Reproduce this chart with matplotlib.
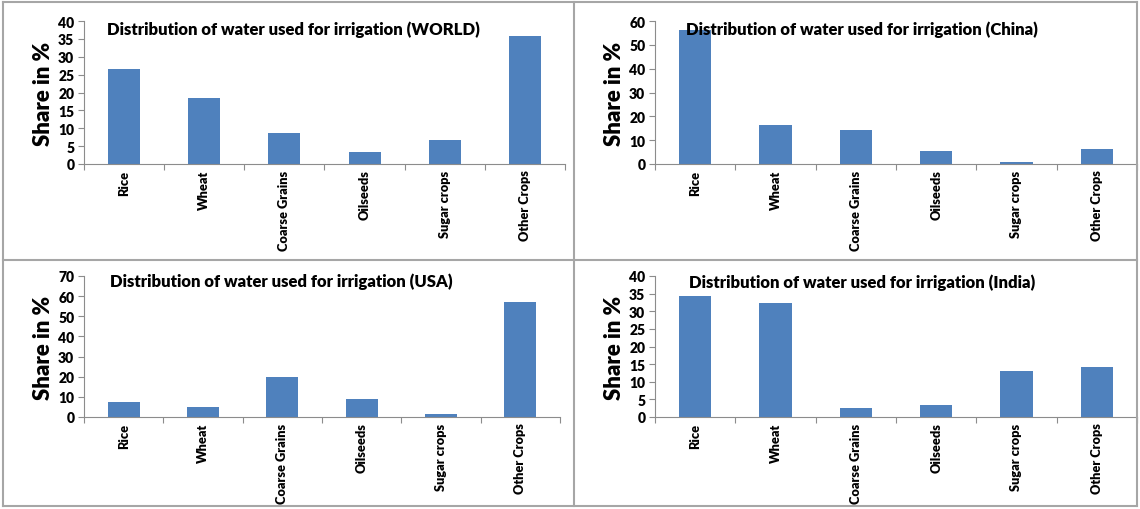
import matplotlib
matplotlib.use("Agg")
import matplotlib.pyplot as plt
from matplotlib.lines import Line2D
import numpy as np

plt.rcParams['font.family'] = ['Lato', 'DejaVu Sans']

categories = ["Rice", "Wheat", "Coarse Grains", "Oilseeds", "Sugar crops", "Other Crops"]
world = [26.7, 18.5, 8.7, 3.3, 6.7, 35.8]
china = [56.2, 16.5, 14.4, 5.4, 0.8, 6.4]
usa = [7.4, 5.0, 19.8, 8.7, 1.6, 57.1]
india = [34.4, 32.2, 2.5, 3.4, 13.1, 14.2]

titles = ["Distribution of water used for irrigation (WORLD)",
          "Distribution of water used for irrigation (China)",
          "Distribution of water used for irrigation (USA)",
          "Distribution of water used for irrigation (India)"]
ymax = [40, 60, 70, 40]
ystep = [5, 10, 10, 5]

W, H = 1140, 510
fig = plt.figure(figsize=(W / 100, H / 100), dpi=100)

# axes rectangles in pixel coords: left, right, top(y of ymax), bottom(y of 0)
rects = [(84, 565, 22, 165), (655, 1137, 22, 165), (84, 560, 277, 418), (655, 1137, 277, 418)]
title_pos = [(0.435, 0.945), (0.43, 0.945), (0.415, 0.965), (0.43, 0.96)]
data = [world, china, usa, india]
bar_color = "#4F81BD"
axis_color = "#8C8C8C"

for i in range(4):
    l, r, t, b = rects[i]
    ax = fig.add_axes([l / W, 1 - b / H, (r - l) / W, (b - t) / H])
    x = np.arange(len(categories))
    ax.bar(x, data[i], width=0.4, color=bar_color, zorder=2)
    ax.set_xlim(-0.5, len(categories) - 0.5)
    ax.set_ylim(0, ymax[i])
    ax.set_yticks(np.arange(0, ymax[i] + 0.1, ystep[i]))
    ax.set_xticks(x)
    ax.set_xticklabels(categories, rotation=90, fontsize=9.2, fontweight='heavy')
    ax.tick_params(axis='x', length=0, pad=4)
    ax.set_xticks(np.arange(-0.5, len(categories), 1.0), minor=True)
    ax.tick_params(axis='x', which='minor', length=4, color=axis_color, width=0.8)
    ax.tick_params(axis='y', length=4, color=axis_color, width=0.8, labelsize=10, pad=3)
    for lab in ax.get_yticklabels():
        lab.set_fontweight('heavy')
    for s in ['top', 'right']:
        ax.spines[s].set_visible(False)
    for s in ['left', 'bottom']:
        ax.spines[s].set_color(axis_color)
        ax.spines[s].set_linewidth(0.8)
    ax.set_ylabel("Share in %", fontsize=16, fontweight='heavy', labelpad=3)
    ax.text(title_pos[i][0], title_pos[i][1], titles[i], transform=ax.transAxes,
            ha='center', va='center', fontsize=12, fontweight='heavy')

# panel borders
border = "#A6A6A6"
def pline(x0, y0, x1, y1, lw=1.5):
    fig.add_artist(Line2D([x0 / W, x1 / W], [1 - y0 / H, 1 - y1 / H],
                          color=border, linewidth=lw, transform=fig.transFigure))

pline(3, 3, 1137, 3)
pline(3, 3, 3, 507)
pline(3, 507, 1137, 507)
pline(1137, 3, 1137, 507)
pline(3, 261, 1137, 261)
pline(574, 3, 574, 507)

fig.savefig("out.png", dpi=100)
